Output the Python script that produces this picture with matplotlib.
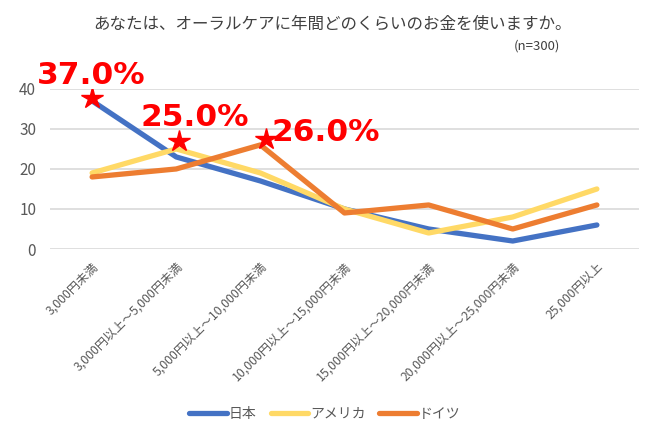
import matplotlib
matplotlib.use("Agg")
import matplotlib.pyplot as plt
import matplotlib.transforms as mtransforms

plt.rcParams['font.family'] = ['Noto Sans CJK JP', 'DejaVu Sans']

categories = ["3,000円未満", "3,000円以上～5,000円未満", "5,000円以上～10,000円未満",
              "10,000円以上～15,000円未満", "15,000円以上～20,000円未満",
              "20,000円以上～25,000円未満", "25,000円以上"]
japan = [37, 23, 17, 10, 5, 2, 6]
america = [19, 25, 19, 10, 4, 8, 15]
germany = [18, 20, 26, 9, 11, 5, 11]
series_names = ["日本", "アメリカ", "ドイツ"]
colors = ["#4472C4", "#FFD966", "#ED7D31"]
highlights = [(0, japan[0]), (1, america[1]), (2, germany[2])]
yticks = [0, 10, 20, 30, 40]

fig = plt.figure(figsize=(6.5, 4.38), dpi=100)
ax = fig.add_axes([0.077, 0.4315, 0.906, 0.3655])
x = list(range(len(categories)))
for vals, name, c in zip([japan, america, germany], series_names, colors):
    ax.plot(x, vals, color=c, lw=3.8, label=name, solid_capstyle='round', solid_joinstyle='round')

star_offsets = [2, 6, 4]
label_offsets = [(-1, 8), (13, 12), (8, 9)]
label_ha = ['center', 'center', 'left']
label_va = ['bottom', 'bottom', 'center']
for i, (xi, yi) in enumerate(highlights):
    off = mtransforms.offset_copy(ax.transData, fig=fig, x=i * 2, y=star_offsets[i], units='points')
    ax.plot([xi], [yi], marker='*', color='#FF0000', markersize=16, transform=off, linestyle='none', zorder=5)
    ax.annotate(f"{yi:.1f}%", (xi, yi), xytext=label_offsets[i],
                textcoords='offset points', fontsize=22.5, fontweight='bold', color='#FF0000',
                family='DejaVu Sans', ha=label_ha[i], va=label_va[i], zorder=6)

ax.set_xlim(-0.5, 6.5)
ax.set_ylim(0, 40)
ax.set_yticks(yticks)
ax.set_xticks(x)
ax.set_xticklabels(categories, rotation=45, ha='right', rotation_mode='anchor', fontsize=8.8, color='#595959')
ax.tick_params(axis='y', length=0, labelsize=11, labelcolor='#595959', pad=10)
ax.tick_params(axis='x', length=0, pad=8)
ax.grid(axis='y', color='#D9D9D9', lw=1.2)
ax.set_axisbelow(True)
for s in ax.spines.values():
    s.set_visible(False)

fig.text(0.512, 0.944, "あなたは、オーラルケアに年間どのくらいのお金を使いますか。", ha='center', va='center',
         fontsize=11.9, color='#404040')
fig.text(0.862, 0.896, "(n=300)", ha='right', va='center', fontsize=9.5, color='#404040')

leg = fig.legend(loc='center', bbox_to_anchor=(0.5, 0.055), ncol=3, frameon=False,
                 fontsize=10, handlelength=2.7, handletextpad=0.15, columnspacing=1.0)
for t in leg.get_texts():
    t.set_color('#595959')

fig.savefig("out.png", dpi=100)
